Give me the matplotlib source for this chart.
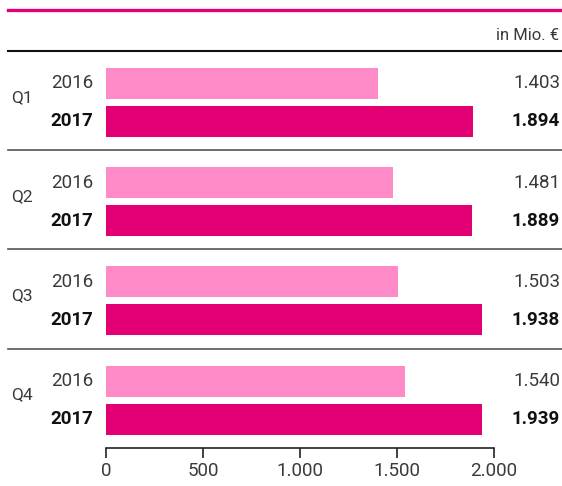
import matplotlib
matplotlib.use("Agg")
import matplotlib.pyplot as plt
from matplotlib.transforms import blended_transform_factory

quarters = ["Q1", "Q2", "Q3", "Q4"]
years = ["2016", "2017"]
values_2016 = [1403, 1481, 1503, 1540]
values_2017 = [1894, 1889, 1938, 1939]
labels_2016 = ["1.403", "1.481", "1.503", "1.540"]
labels_2017 = ["1.894", "1.889", "1.938", "1.939"]
ticks = [0, 500, 1000, 1500, 2000]
tick_labels = ["0", "500", "1.000", "1.500", "2.000"]
unit_label = "in Mio. €"

LIGHT = "#FF8AC8"
DARK = "#E20074"
FONT = "Roboto"
TXT = "#3a3a3a"
W_REG = "normal"

W, H = 562, 486
fig = plt.figure(figsize=(W / 100, H / 100), dpi=100)
ax_left, ax_right = 106, 494
ax_top, ax_bot = 51, 448
ax = fig.add_axes([ax_left / W, 1 - ax_bot / H, (ax_right - ax_left) / W, (ax_bot - ax_top) / H])

pitch = 99.2
bar_h = 31
c16 = [32.5 + pitch * i for i in range(4)]
c17 = [70.5 + pitch * i for i in range(4)]

ax.barh(c16, values_2016, height=bar_h, color=LIGHT, zorder=2)
ax.barh(c17, values_2017, height=bar_h, color=DARK, zorder=2)
ax.set_xlim(0, 2000)
ax.set_ylim(ax_bot - ax_top, 0)
for s in ["top", "right", "left"]:
    ax.spines[s].set_visible(False)
ax.spines["bottom"].set_linewidth(1.2)
ax.spines["bottom"].set_color("#222222")
ax.set_yticks([])
ax.set_xticks(ticks)
ax.set_xticklabels(tick_labels, fontsize=13.5, family=FONT, fontweight=W_REG, color=TXT)
ax.tick_params(axis="x", length=7, width=1.2, pad=3, color="#222222")

tr = blended_transform_factory(fig.transFigure, ax.transData)
x0 = 8 / W
for i in range(1, 4):
    y = pitch * i
    ax.plot([x0, 1], [y, y], transform=tr, color="#555555", lw=1.2, clip_on=False)
ax.plot([x0, 1], [0, 0], transform=tr, color="#111111", lw=1.5, clip_on=False)
fig.add_artist(plt.Line2D([x0, 1], [1 - 10.5 / H, 1 - 10.5 / H], transform=fig.transFigure,
                          color=DARK, lw=2.4))
fig.text(559 / W, 1 - 35 / H, unit_label, ha="right", va="center", fontsize=12,
         family=FONT, fontweight=W_REG, color=TXT)

for i in range(4):
    mid = (c16[i] + c17[i]) / 2 - 5
    ax.text(11 / W, mid, quarters[i], transform=tr, ha="left", va="center",
            fontsize=12.5, family=FONT, fontweight=W_REG, color=TXT)
    ax.text(93 / W, c16[i], years[0], transform=tr, ha="right", va="center",
            fontsize=13.5, family=FONT, fontweight=W_REG, color=TXT)
    ax.text(93 / W, c17[i], years[1], transform=tr, ha="right", va="center",
            fontsize=13.5, family=FONT, fontweight="bold", color="#111111")
    ax.text(560 / W, c16[i], labels_2016[i], transform=tr, ha="right", va="center",
            fontsize=13.5, family=FONT, fontweight=W_REG, color=TXT)
    ax.text(560 / W, c17[i], labels_2017[i], transform=tr, ha="right", va="center",
            fontsize=13.5, family=FONT, fontweight="bold", color="#111111")

fig.savefig("out.png", dpi=100)
